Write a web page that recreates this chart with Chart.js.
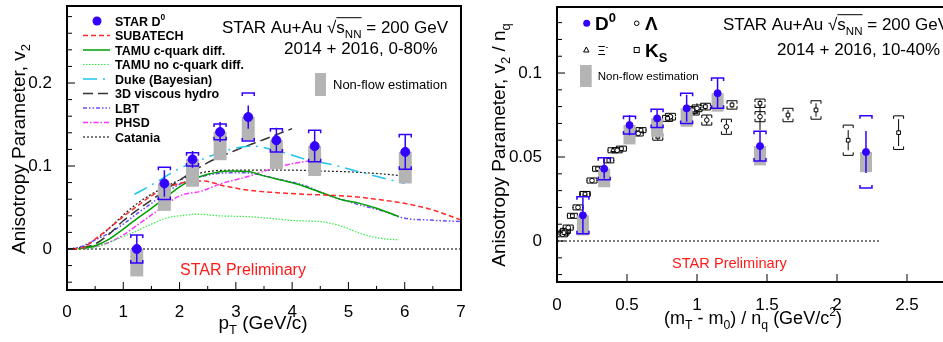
<!DOCTYPE html>
<html>
<head>
<meta charset="utf-8">
<script src="https://cdn.jsdelivr.net/npm/chart.js@4.4.0/dist/chart.umd.min.js"></script>
<style>
html, body { margin: 0; padding: 0; background: #fff; overflow: hidden; width: 943px; height: 342px; }
#left { position: absolute; left: 0; top: 0; }
#right { position: absolute; left: 470px; top: 0; }
</style>
</head>
<body>
<canvas id="left" width="470" height="342" style="width:470px;height:342px"></canvas>
<canvas id="right" width="490" height="342" style="width:490px;height:342px"></canvas>
<script>
const FONT = '"Liberation Sans", Arial, Helvetica, sans-serif';

// ---------- left panel: D0 v2 vs pT, 0-80%
const d0Pt      = [1.24, 1.73, 2.23, 2.72, 3.22, 3.72, 4.40, 6.01];
const d0V2      = [0.000, 0.079, 0.108, 0.141, 0.159, 0.131, 0.124, 0.117];
const d0Stat    = [0.017, 0.016, 0.010, 0.012, 0.014, 0.015, 0.019, 0.021];
const d0Sys     = [0.017, 0.0195, 0.008, 0.0095, 0.029, 0.014, 0.019, 0.021];
const d0NonFlow = [0.033, 0.033, 0.033, 0.034, 0.028, 0.035, 0.036, 0.038];

// model curves [pT, v2]
const subatech = [[0.1,0],[0.3,0.002],[0.5,0.012],[0.75,0.025],[1.0,0.039],[1.25,0.052],[1.5,0.064],[1.75,0.073],[2.0,0.079],[2.4,0.082],[2.8,0.076],[3.2,0.071],[3.7,0.068],[4.2,0.066],[4.6,0.065],[5.1,0.063],[5.6,0.059],[6.0,0.055],[6.5,0.047],[7.0,0.035]];
const tamuDiff = [[0.2,0],[0.5,0.004],[0.75,0.012],[1.0,0.024],[1.25,0.037],[1.5,0.049],[1.75,0.062],[2.0,0.075],[2.25,0.084],[2.5,0.090],[2.9,0.094],[3.25,0.093],[3.45,0.089],[3.8,0.083],[4.1,0.078],[4.6,0.066],[4.9,0.059],[5.2,0.055],[5.5,0.049],[5.9,0.039]];
const tamuNoDiff = [[0.3,0],[0.5,0.002],[0.75,0.008],[1.0,0.015],[1.25,0.022],[1.5,0.030],[1.8,0.038],[2.0,0.040],[2.3,0.042],[2.7,0.040],[3.2,0.039],[3.6,0.037],[4.1,0.034],[4.5,0.033],[4.9,0.027],[5.2,0.019],[5.55,0.013],[5.9,0.011]];
const duke = [[1.2,0.066],[1.5,0.077],[2.0,0.097],[2.4,0.108],[2.9,0.120],[3.3,0.124],[3.8,0.117],[4.3,0.107],[4.75,0.101],[5.3,0.091],[6.0,0.079]];
const hydro = [[0,0],[0.25,0.001],[0.5,0.006],[0.75,0.018],[1.0,0.034],[1.25,0.047],[1.5,0.059],[1.75,0.071],[2.0,0.083],[2.5,0.104],[3.0,0.119],[3.5,0.132],[4.0,0.145]];
const lbt = [[0,0],[0.25,0.003],[0.5,0.011],[0.75,0.019],[1.0,0.030],[1.25,0.043],[1.5,0.055],[1.75,0.067],[2.0,0.078],[2.5,0.089],[3.0,0.092],[3.3,0.091],[3.7,0.085],[4.2,0.077],[4.6,0.066],[5.1,0.055],[5.6,0.046],[6.0,0.037],[6.4,0.035],[7.0,0.033]];
const phsd = [[0.3,0],[0.5,0.003],[0.75,0.008],[1.0,0.017],[1.25,0.029],[1.5,0.041],[1.75,0.053],[2.0,0.064],[2.4,0.070],[2.75,0.079],[3.2,0.087],[3.7,0.098],[4.1,0.104],[4.4,0.107]];
const catania = [[0,0],[0.25,0.002],[0.5,0.011],[0.75,0.025],[1.0,0.041],[1.25,0.055],[1.5,0.066],[1.75,0.075],[2.0,0.083],[2.4,0.092],[2.9,0.095],[3.5,0.095],[4.0,0.095],[4.5,0.094],[5.0,0.093],[5.5,0.091],[6.0,0.088]];

const leftXLabels = [0, 1, 2, 3, 4, 5, 6, 7];
const leftXMinor  = [0.5, 1.5, 2.5, 3.5, 4.5, 5.5, 6.5];
const leftYLabels = [0, 0.1, 0.2];
const leftYMinor  = [-0.04, -0.02, 0.02, 0.04, 0.06, 0.08, 0.12, 0.14, 0.16, 0.18, 0.22, 0.24, 0.26, 0.28];

// ---------- right panel: v2/nq vs (mT-m0)/nq, 10-40%
const d0Ket       = [0.185, 0.337, 0.518, 0.715, 0.926, 1.147, 1.450, 2.207];
const d0V2nq      = [0.0153, 0.043, 0.069, 0.073, 0.079, 0.088, 0.0565, 0.053];
const d0StatNq    = [0.0105, 0.006, 0.006, 0.005, 0.008, 0.009, 0.009, 0.0125];
const d0SysNq     = [0.011, 0.0065, 0.0053, 0.0055, 0.009, 0.009, 0.0088, 0.0215];
const d0NonFlowNq = [0.012, 0.011, 0.0115, 0.011, 0.011, 0.011, 0.0115, 0.012];

const ksKet  = [0.05, 0.11, 0.20, 0.29, 0.37, 0.46, 0.60, 0.79, 0.97, 1.06, 1.25, 1.45, 1.65, 1.85, 2.08, 2.44];
const ksV2   = [0.005, 0.015, 0.028, 0.043, 0.048, 0.055, 0.066, 0.073, 0.078, 0.080, 0.081, 0.082, 0.075, 0.078, 0.060, 0.0645];
const ksStat = [0.001, 0.001, 0.001, 0.001, 0.001, 0.001, 0.001, 0.001, 0.002, 0.002, 0.002, 0.002, 0.003, 0.004, 0.006, 0.008];
const ksSys  = [0.0015, 0.0015, 0.0015, 0.0015, 0.0015, 0.0015, 0.0015, 0.0018, 0.002, 0.002, 0.0025, 0.0025, 0.004, 0.0055, 0.009, 0.010];

const lamKet  = [0.04, 0.08, 0.15, 0.25, 0.43, 0.58, 0.81, 1.00, 1.07, 1.21, 1.45];
const lamV2   = [0.004, 0.008, 0.020, 0.036, 0.054, 0.064, 0.074, 0.079, 0.072, 0.068, 0.074];
const lamStat = [0.001, 0.001, 0.001, 0.001, 0.001, 0.001, 0.001, 0.003, 0.003, 0.004, 0.008];
const lamSys  = [0.0015, 0.0015, 0.0015, 0.0015, 0.0015, 0.0015, 0.002, 0.002, 0.003, 0.0045, 0.003];

const xiKet  = [0.06, 0.20, 0.40, 0.72, 0.98];
const xiV2   = [0.006, 0.028, 0.054, 0.062, 0.077];
const xiStat = [0.001, 0.001, 0.001, 0.002, 0.002];
const xiSys  = [0.0015, 0.0015, 0.0015, 0.002, 0.002];

const rightXLabels = [0, 0.5, 1, 1.5, 2, 2.5];
const rightYLabels = [0, 0.05, 0.1];
const rightYMinor  = [-0.02, -0.01, 0.01, 0.02, 0.03, 0.04, 0.06, 0.07, 0.08, 0.09, 0.11, 0.12, 0.13];

const BLUE = '#3300ff';
const GRAY = '#b4b4b4';

const leftModels = [
  { label: 'SUBATECH', data: subatech, color: '#ff2a2a', dash: [5, 3], width: 1.5 },
  { label: 'TAMU c-quark diff.', data: tamuDiff, color: '#00a000', dash: [], width: 1.5 },
  { label: 'TAMU no c-quark diff.', data: tamuNoDiff, color: '#33ee44', dash: [1.5, 1.5], width: 1.2 },
  { label: 'Duke (Bayesian)', data: duke, color: '#22c4ee', dash: [14, 6, 2, 6], width: 1.5 },
  { label: '3D viscous hydro', data: hydro, color: '#333333', dash: [10, 5], width: 1.5 },
  { label: 'LBT', data: lbt, color: '#6a4cff', dash: [4, 2, 1.5, 2, 1.5, 2], width: 1.5 },
  { label: 'PHSD', data: phsd, color: '#ff33ff', dash: [5, 2, 1.5, 2], width: 1.5 },
  { label: 'Catania', data: catania, color: '#222222', dash: [2, 2], width: 1.2 }
];

function pts(xs, ys) { return xs.map((x, i) => ({ x: x, y: ys[i] })); }
function pairs(arr) { return arr.map(p => ({ x: p[0], y: p[1] })); }

function rich(ctx, x, y, segs, size, align, bold) {
  const parts = segs.map(s => {
    const fs = (s.sub || s.sup) ? size * 0.68 : size;
    const f = ((s.bold || bold) ? 'bold ' : '') + fs + 'px ' + FONT;
    ctx.font = f;
    return { s: s, f: f, w: ctx.measureText(s.t).width, dy: s.sub ? size * 0.28 : s.sup ? -size * 0.42 : 0 };
  });
  const total = parts.reduce((a, p) => a + p.w, 0);
  let cx = align === 'center' ? x - total / 2 : align === 'right' ? x - total : x;
  let o0 = null, o1 = null;
  ctx.textAlign = 'left';
  ctx.textBaseline = 'alphabetic';
  parts.forEach(p => {
    ctx.font = p.f;
    ctx.fillText(p.s.t, cx, y + p.dy);
    if (p.s.over) { if (o0 === null) o0 = cx; o1 = cx + p.w; }
    cx += p.w;
  });
  if (o0 !== null) {
    ctx.beginPath();
    ctx.lineWidth = 1;
    ctx.moveTo(o0, y - size * 0.9);
    ctx.lineTo(o1, y - size * 0.9);
    ctx.stroke();
  }
}

function frameAndTicks(c, xMaj, xMin, yMaj, yMin) {
  const ctx = c.ctx, a = c.chartArea, sx = c.scales.x, sy = c.scales.y;
  ctx.save();
  ctx.strokeStyle = '#000';
  ctx.lineWidth = 1;
  ctx.beginPath();
  xMaj.forEach(v => { const p = sx.getPixelForValue(v); ctx.moveTo(p, a.bottom); ctx.lineTo(p, a.bottom - 8); });
  xMin.forEach(v => { const p = sx.getPixelForValue(v); ctx.moveTo(p, a.bottom); ctx.lineTo(p, a.bottom - 4); });
  yMaj.forEach(v => { const p = sy.getPixelForValue(v); ctx.moveTo(a.left, p); ctx.lineTo(a.left + 8, p); });
  yMin.forEach(v => { const p = sy.getPixelForValue(v); ctx.moveTo(a.left, p); ctx.lineTo(a.left + 5, p); });
  ctx.stroke();
  ctx.lineWidth = 2;
  ctx.strokeRect(a.left, a.top, a.right - a.left, a.bottom - a.top);
  ctx.restore();
}

function zeroLine(c, x0, x1) {
  const ctx = c.ctx, sx = c.scales.x, sy = c.scales.y;
  ctx.save();
  ctx.strokeStyle = '#222';
  ctx.lineWidth = 1.2;
  ctx.setLineDash([2, 2]);
  ctx.beginPath();
  ctx.moveTo(sx.getPixelForValue(x0), sy.getPixelForValue(0));
  ctx.lineTo(sx.getPixelForValue(x1), sy.getPixelForValue(0));
  ctx.stroke();
  ctx.restore();
}

// ROOT style: stat as vertical line, sys as brackets
function errors(c, xs, ys, stat, sys, color, hw, lw) {
  const ctx = c.ctx, sx = c.scales.x, sy = c.scales.y;
  ctx.save();
  ctx.strokeStyle = color;
  ctx.lineWidth = lw;
  ctx.beginPath();
  xs.forEach((x, i) => {
    const px = sx.getPixelForValue(x);
    ctx.moveTo(px, sy.getPixelForValue(ys[i] + stat[i]));
    ctx.lineTo(px, sy.getPixelForValue(ys[i] - stat[i]));
    const top = sy.getPixelForValue(ys[i] + sys[i]);
    const bot = sy.getPixelForValue(ys[i] - sys[i]);
    ctx.moveTo(px - hw, top + 3); ctx.lineTo(px - hw, top); ctx.lineTo(px + hw, top); ctx.lineTo(px + hw, top + 3);
    ctx.moveTo(px - hw, bot - 3); ctx.lineTo(px - hw, bot); ctx.lineTo(px + hw, bot); ctx.lineTo(px + hw, bot - 3);
  });
  ctx.stroke();
  ctx.restore();
}

function nonFlow(c, xs, ys, nf, halfW) {
  const ctx = c.ctx, sx = c.scales.x, sy = c.scales.y;
  ctx.save();
  ctx.fillStyle = GRAY;
  xs.forEach((x, i) => {
    const l = sx.getPixelForValue(x - halfW), r = sx.getPixelForValue(x + halfW);
    const t = sy.getPixelForValue(ys[i]), b = sy.getPixelForValue(ys[i] - nf[i]);
    ctx.fillRect(l, t, r - l, b - t);
  });
  ctx.restore();
}

function scales(xMin, xMax, yMin, yMax, xLabels, yLabels, yWidth, xHeight, xPad, yPad) {
  const tickFont = { family: FONT, size: 17 };
  return {
    x: {
      type: 'linear', min: xMin, max: xMax,
      grid: { display: false }, border: { display: false },
      afterBuildTicks: s => { s.ticks = xLabels.map(v => ({ value: v })); },
      afterFit: s => { s.height = xHeight; s.paddingLeft = 0; s.paddingRight = 0; },
      ticks: { autoSkip: false, maxRotation: 0, padding: xPad, color: '#000', font: tickFont, callback: v => String(v) }
    },
    y: {
      type: 'linear', min: yMin, max: yMax,
      grid: { display: false }, border: { display: false },
      afterBuildTicks: s => { s.ticks = yLabels.map(v => ({ value: v })); },
      afterFit: s => { s.width = yWidth; s.paddingTop = 0; s.paddingBottom = 0; },
      ticks: { autoSkip: false, padding: yPad, color: '#000', font: tickFont, callback: v => String(v) }
    }
  };
}

// ---------- left chart
const leftDatasets = [{
  label: 'STAR D0', data: pts(d0Pt, d0V2),
  pointRadius: 4.5, pointBackgroundColor: BLUE, pointBorderColor: BLUE, showLine: false
}].concat(leftModels.map(m => ({
  label: m.label, data: pairs(m.data), showLine: true, pointRadius: 0,
  borderColor: m.color, borderDash: m.dash, borderWidth: m.width,
  cubicInterpolationMode: 'monotone', fill: false
})));

const leftPlugin = {
  id: 'leftDeco',
  beforeDatasetsDraw(c) { zeroLine(c, 0, 7); },
  beforeDatasetDraw(c, args) {
    if (args.index !== 0) return;
    nonFlow(c, d0Pt, d0V2, d0NonFlow, 0.115);
    errors(c, d0Pt, d0V2, d0Stat, d0Sys, BLUE, 6, 1.5);
  },
  afterDraw(c) {
    const ctx = c.ctx;
    frameAndTicks(c, leftXLabels, leftXMinor, leftYLabels, leftYMinor);
    ctx.save();
    ctx.fillStyle = '#000'; ctx.strokeStyle = '#000';
    // legend
    const y0 = 21, dy = 14.5;
    ctx.fillStyle = BLUE;
    ctx.beginPath(); ctx.arc(97, y0, 4.5, 0, Math.PI * 2); ctx.fill();
    ctx.fillStyle = '#000';
    rich(ctx, 115, y0 + 4.5, [{ t: 'STAR D' }, { t: '0', sup: true }], 12.5, 'left', true);
    leftModels.forEach((m, i) => {
      const y = y0 + dy * (i + 1);
      ctx.save();
      ctx.strokeStyle = m.color; ctx.lineWidth = m.width; ctx.setLineDash(m.dash);
      ctx.beginPath(); ctx.moveTo(83, y); ctx.lineTo(110, y); ctx.stroke();
      ctx.restore();
      rich(ctx, 115, y + 4.5, [{ t: m.label }], 12.5, 'left', true);
    });
    // header
    rich(ctx, 222, 33, [{ t: 'STAR Au+Au ' }, { t: '√' }, { t: 's', over: true }, { t: 'NN', sub: true, over: true }, { t: ' = 200 GeV' }], 17, 'left');
    rich(ctx, 284, 54, [{ t: '2014 + 2016, 0-80%' }], 17, 'left');
    ctx.fillStyle = GRAY; ctx.fillRect(315, 73, 11, 23);
    ctx.fillStyle = '#000';
    rich(ctx, 333, 89, [{ t: 'Non-flow estimation' }], 13, 'left');
    ctx.fillStyle = '#ff1a1a';
    rich(ctx, 180, 275, [{ t: 'STAR Preliminary' }], 16, 'left');
    // axis titles
    ctx.fillStyle = '#000';
    rich(ctx, 263, 329, [{ t: 'p' }, { t: 'T', sub: true }, { t: ' (GeV/c)' }], 19, 'center');
    ctx.translate(25, 149); ctx.rotate(-Math.PI / 2);
    rich(ctx, 0, 0, [{ t: 'Anisotropy Parameter, v' }, { t: '2', sub: true }], 19, 'center');
    ctx.restore();
  }
};

new Chart(document.getElementById('left'), {
  type: 'scatter',
  data: { datasets: leftDatasets },
  options: {
    responsive: false, animation: false, devicePixelRatio: 1,
    layout: { padding: { left: 0, top: 6, right: 9, bottom: 0 } },
    plugins: { legend: { display: false }, tooltip: { enabled: false } },
    scales: scales(0, 7, -0.0494, 0.2928, leftXLabels, leftYLabels, 67, 52, 4, 7)
  },
  plugins: [leftPlugin]
});

// ---------- right chart
const openMarker = { pointBackgroundColor: '#fff', pointBorderColor: '#000', pointBorderWidth: 1, showLine: false };
const rightDatasets = [
  { label: 'D0', data: pts(d0Ket, d0V2nq), pointRadius: 3.5, pointBackgroundColor: BLUE, pointBorderColor: BLUE, showLine: false },
  Object.assign({ label: 'KS', data: pts(ksKet, ksV2), pointStyle: 'rect', pointRadius: 2.6 }, openMarker),
  Object.assign({ label: 'Lambda', data: pts(lamKet, lamV2), pointStyle: 'circle', pointRadius: 2.3 }, openMarker),
  Object.assign({ label: 'Xi', data: pts(xiKet, xiV2), pointStyle: 'triangle', pointRadius: 2.6 }, openMarker)
];

const rightPlugin = {
  id: 'rightDeco',
  beforeDatasetsDraw(c) {
    zeroLine(c, 0, 2.3);
    errors(c, ksKet, ksV2, ksStat, ksSys, '#000', 5, 1);
    errors(c, lamKet, lamV2, lamStat, lamSys, '#000', 5, 1);
    errors(c, xiKet, xiV2, xiStat, xiSys, '#000', 5, 1);
  },
  beforeDatasetDraw(c, args) {
    if (args.index !== 0) return;
    nonFlow(c, d0Ket, d0V2nq, d0NonFlowNq, 0.043);
    errors(c, d0Ket, d0V2nq, d0StatNq, d0SysNq, BLUE, 6, 1.5);
  },
  afterDraw(c) {
    const ctx = c.ctx;
    frameAndTicks(c, rightXLabels, [], rightYLabels, rightYMinor);
    ctx.save();
    ctx.fillStyle = '#000'; ctx.strokeStyle = '#000';
    // legend
    ctx.fillStyle = BLUE;
    ctx.beginPath(); ctx.arc(116.7, 23.3, 3.5, 0, Math.PI * 2); ctx.fill();
    ctx.fillStyle = '#000';
    rich(ctx, 125, 30, [{ t: 'D' }, { t: '0', sup: true }], 19, 'left', true);
    ctx.lineWidth = 1;
    ctx.beginPath(); ctx.arc(166.7, 23.3, 2.3, 0, Math.PI * 2); ctx.stroke();
    rich(ctx, 175, 30, [{ t: 'Λ' }], 19, 'left', true);
    ctx.beginPath(); ctx.moveTo(116.3, 47); ctx.lineTo(119, 52); ctx.lineTo(113.6, 52); ctx.closePath(); ctx.stroke();
    rich(ctx, 127.7, 55, [{ t: 'Ξ' }, { t: '-', sup: true }], 12, 'left');
    ctx.strokeRect(164.2, 47.5, 5, 5);
    rich(ctx, 175, 57, [{ t: 'K' }, { t: 'S', sub: true }], 19, 'left', true);
    ctx.fillStyle = GRAY; ctx.fillRect(110, 65, 11.7, 22);
    ctx.fillStyle = '#000';
    rich(ctx, 127.7, 80, [{ t: 'Non-flow estimation' }], 11.5, 'left');
    // header
    rich(ctx, 253, 30, [{ t: 'STAR Au+Au ' }, { t: '√' }, { t: 's', over: true }, { t: 'NN', sub: true, over: true }, { t: ' = 200 GeV' }], 17, 'left');
    rich(ctx, 307, 55, [{ t: '2014 + 2016, 10-40%' }], 17, 'left');
    ctx.fillStyle = '#ff1a1a';
    rich(ctx, 202, 268, [{ t: 'STAR Preliminary' }], 14.6, 'left');
    // axis titles
    ctx.fillStyle = '#000';
    rich(ctx, 283, 324, [{ t: '(m' }, { t: 'T', sub: true }, { t: ' - m' }, { t: '0', sub: true }, { t: ') / n' }, { t: 'q', sub: true }, { t: ' (GeV/c' }, { t: '2', sup: true }, { t: ')' }], 18, 'center');
    ctx.translate(35, 145); ctx.rotate(-Math.PI / 2);
    rich(ctx, 0, 0, [{ t: 'Anisotropy Parameter, v' }, { t: '2', sub: true }, { t: ' / n' }, { t: 'q', sub: true }], 19, 'center');
    ctx.restore();
  }
};

new Chart(document.getElementById('right'), {
  type: 'scatter',
  data: { datasets: rightDatasets },
  options: {
    responsive: false, animation: false, devicePixelRatio: 1,
    layout: { padding: { left: 0, top: 7, right: 11, bottom: 0 } },
    plugins: { legend: { display: false }, tooltip: { enabled: false } },
    scales: scales(0, 2.8, -0.0244, 0.1393, rightXLabels, rightYLabels, 87, 60, 5, 7)
  },
  plugins: [rightPlugin]
});
</script>
</body>
</html>
